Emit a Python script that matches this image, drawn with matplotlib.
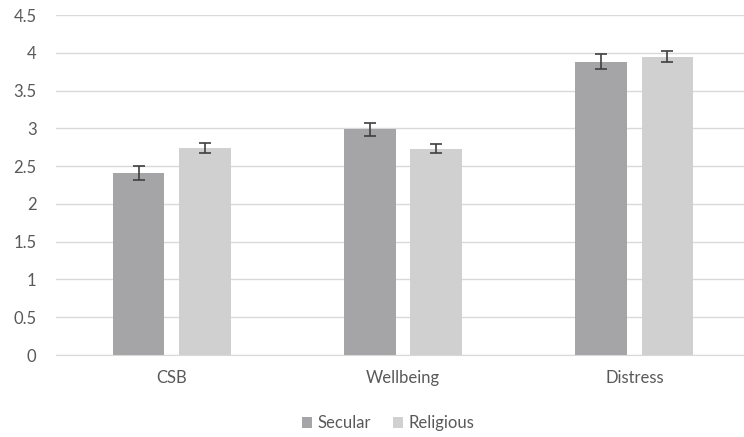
import numpy as np
import matplotlib.pyplot as plt

categories = ["CSB", "Wellbeing", "Distress"]
secular = [2.41, 2.99, 3.88]
religious = [2.74, 2.73, 3.95]
secular_err = [0.09, 0.085, 0.10]
religious_err = [0.065, 0.06, 0.07]

plt.rcParams['font.family'] = ['Lato', 'DejaVu Sans']

fig = plt.figure(figsize=(7.44, 4.37), dpi=100)
ax = fig.add_axes([56/744, (437-355)/437, 694/744, 340/437])

x = np.arange(len(categories))
w = 0.223
off = 0.143
err_kw = dict(ecolor='#404040', elinewidth=1.2, capsize=4, capthick=1.2)
ax.bar(x - off, secular, w, yerr=secular_err, color='#A5A5A7', label='Secular', error_kw=err_kw, zorder=2)
ax.bar(x + off, religious, w, yerr=religious_err, color='#D0D0D0', label='Religious', error_kw=err_kw, zorder=2)

ax.set_xlim(-0.5, 2.5)
ax.set_ylim(0, 4.5)
yt = np.arange(0, 4.51, 0.5)
ax.set_yticks(yt)
ax.set_yticklabels(['0', '0.5', '1', '1.5', '2', '2.5', '3', '3.5', '4', '4.5'])
ax.set_xticks(x)
ax.set_xticklabels(categories)
ax.tick_params(axis='y', length=0, pad=14, labelsize=12, labelcolor='#595959')
ax.tick_params(axis='x', length=0, pad=11, labelsize=12, labelcolor='#595959')

ax.grid(axis='y', color='#D9D9D9', linewidth=1, zorder=0)
for s in ['top', 'right', 'left']:
    ax.spines[s].set_visible(False)
ax.spines['bottom'].set_color('#D9D9D9')

ax.legend(loc='center', bbox_to_anchor=(388/744, (437-423)/437), bbox_transform=fig.transFigure,
          ncol=2, frameon=False, fontsize=12, handlelength=0.65, handleheight=0.65,
          handletextpad=0.3, columnspacing=1.3, labelcolor='#595959')

fig.savefig('out.png', dpi=100)
